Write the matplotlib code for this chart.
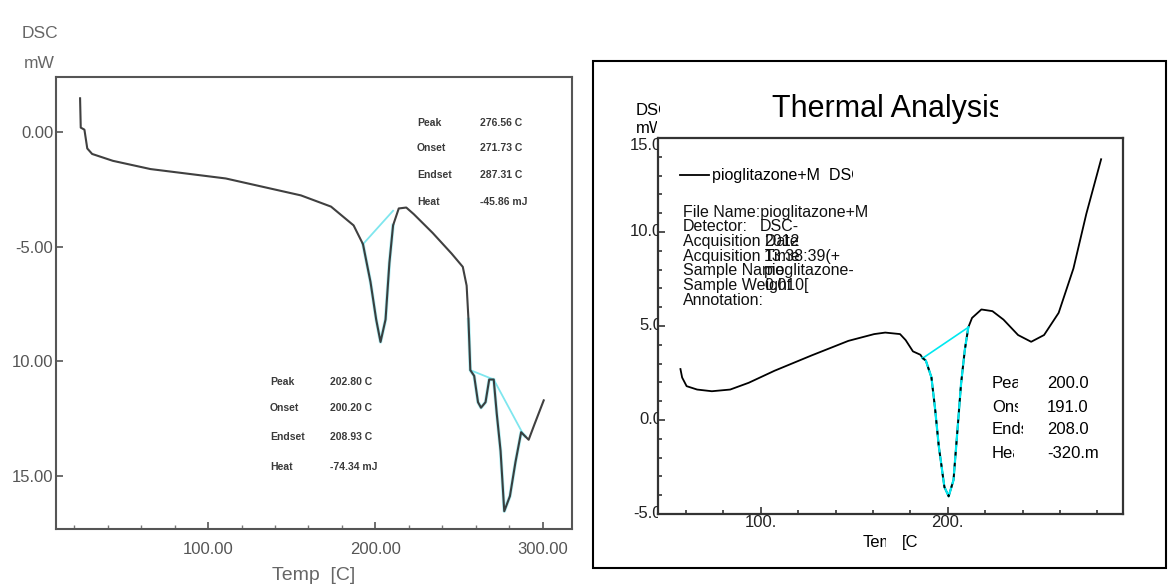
import numpy as np
import matplotlib
matplotlib.use('Agg')
import matplotlib.pyplot as plt
from matplotlib.patches import Rectangle
from matplotlib.ticker import MultipleLocator
from matplotlib.transforms import Bbox, TransformedBbox, blended_transform_factory, ScaledTranslation

W, H = 1168, 585
plt.rcParams['font.family'] = ['Liberation Sans', 'DejaVu Sans']

#############################################
# Left panel data (DSC trace)
#############################################
left_temp = [23.4, 23.8, 26.0, 27.7, 30.6, 43.0, 65.5, 110.5, 155.5, 173.5, 187.0, 192.6,
             197.1, 200.5, 203.1, 206.1, 208.4, 210.6, 214.0, 218.5, 223.0, 234.3, 245.6,
             252.3, 254.6, 255.7, 256.8, 259.1, 261.4, 263.2, 265.9, 268.1, 270.8, 272.6,
             274.9, 277.1, 280.5, 283.8, 287.2, 289.5, 291.7, 295.1, 300.7]
left_dsc = [1.48, 0.20, 0.11, -0.71, -0.95, -1.25, -1.61, -2.02, -2.76, -3.25, -4.07, -4.89,
            -6.54, -8.18, -9.16, -8.18, -5.71, -4.07, -3.33, -3.29, -3.58, -4.40, -5.30,
            -5.88, -6.70, -8.18, -10.39, -10.64, -11.79, -12.03, -11.79, -10.80, -10.80, -12.28,
            -13.92, -16.55, -15.89, -14.41, -13.10, -13.27, -13.43, -12.77, -11.71]
left_base_temp = [[192.6, 210.6], [256.8, 270.8], [270.8, 288.5]]
left_base_dsc = [[-4.89, -3.43], [-10.39, -10.80], [-10.80, -13.20]]
left_yticks = [0, -5, -10, -15]
left_yticklabels = ['0.00', '-5.00', '10.00', '15.00']
left_xticks = [100, 200, 300]
left_xticklabels = ['100.00', '200.00', '300.00']
left_peak_names = ['Peak', 'Onset', 'Endset', 'Heat']
left_peak2_values = ['276.56 C', '271.73 C', '287.31 C', '-45.86 mJ']
left_peak1_values = ['202.80 C', '200.20 C', '208.93 C', '-74.34 mJ']

#############################################
# Right panel data
#############################################
right_temp = [57.1, 58.0, 60.4, 66.0, 73.9, 83.7, 93.6, 107.4, 127.1, 146.9, 160.7, 166.6,
              174.5, 177.5, 181.4, 185.4, 186.5, 188.3, 191.3, 193.2, 195.2, 198.2, 200.5,
              203.1, 205.1, 207.1, 209.1, 211.0, 213.0, 218.0, 223.9, 229.8, 237.6, 244.6,
              251.5, 259.3, 267.2, 274.1, 282.0]
right_dsc = [2.71, 2.26, 1.80, 1.62, 1.53, 1.62, 1.98, 2.62, 3.43, 4.21, 4.57, 4.65,
             4.57, 4.25, 3.65, 3.47, 3.30, 3.16, 2.26, 0.62, -1.38, -3.56, -4.06,
             -3.19, -0.65, 1.89, 3.71, 4.93, 5.43, 5.88, 5.79, 5.34, 4.52, 4.16,
             4.52, 5.70, 8.06, 10.97, 13.87]
right_base_temp = [186.5, 211.0]
right_base_dsc = [3.28, 4.93]
right_yticks = [-5, 0, 5, 10, 15]
right_yticklabels = ['-5.0', '0.0', '5.0', '10.0', '15.0']
right_xticks = [100, 200]
right_xticklabels = ['100.', '200.']
right_info_names = ['File Name:pioglitazone+M', 'Detector:', 'Acquisition Date', 'Acquisition Time',
                    'Sample Name', 'Sample Weight', 'Annotation:']
right_info_values = ['', 'DSC-', '2012', '13:38:39(+', 'pioglitazone-', '0.010[', '']
right_peak_names = ['Peak', 'Onset', 'Endset', 'Heat']
right_peak_values = ['200.0', '191.0', '208.0', '-320.mJ']

fig = plt.figure(figsize=(W / 100, H / 100), dpi=100)


def clip_left_of(t, x_px):
    t.set_clip_box(TransformedBbox(Bbox.from_extents(0, 0, x_px / W, 1), fig.transFigure))
    t.set_clip_on(True)


def fig_text(x_px, y_px, s, clip_px=None, **kw):
    # positions given in picture pixels, measured from the top left
    t = fig.text(x_px / W, 1 - y_px / H, s, **kw)
    if clip_px is not None:
        clip_left_of(t, clip_px)
    return t


#############################################
# Left panel
#############################################
ax1 = fig.add_axes([56 / W, 1 - 529.3 / H, 516.3 / W, 452.3 / H])
ax1.plot(left_temp, left_dsc, color='#2b2b2b', lw=1.5, alpha=0.9, zorder=3)
lt = np.array(left_temp)
ld = np.array(left_dsc)
for lo, hi in [(192.6, 210.6), (255.7, 290.0)]:
    m = (lt >= lo) & (lt <= hi)
    ax1.plot(lt[m], ld[m], color='#7fe6ee', lw=2.5, alpha=0.6, zorder=2)
for bt, bd in zip(left_base_temp, left_base_dsc):
    ax1.plot(bt, bd, color='#7fe6ee', lw=1.3, zorder=2)
ax1.set_xlim(9.0, 317.8)
ax1.set_ylim(-17.34, 2.41)
ax1.set_xticks(left_xticks, left_xticklabels)
ax1.set_yticks(left_yticks, left_yticklabels)
ax1.xaxis.set_minor_locator(MultipleLocator(20))
ax1.tick_params(direction='in', length=5, width=1.2, color='#555555', labelcolor='#555555',
                labelsize=12)
ax1.tick_params(axis='x', pad=9)
ax1.tick_params(axis='y', pad=2)
ax1.tick_params(which='minor', direction='in', length=3, width=1, color='#777777')
for sp in ax1.spines.values():
    sp.set_color('#555555')
    sp.set_linewidth(1.5)

fig_text(40, 33, 'DSC', ha='center', va='center', fontsize=12.5, color='#666666')
fig_text(39, 63, 'mW', ha='center', va='center', fontsize=12.5, color='#666666')
fig_text(314, 575, 'Temp  [C]', ha='center', va='center', fontsize=14, color='#666666')

for i, (name, val) in enumerate(zip(left_peak_names, left_peak2_values)):
    y = [123, 148, 175, 202][i]
    fig_text(417, y, name, va='center', fontsize=7.5, fontweight='bold', color='#3a3a3a')
    fig_text(480, y, val, va='center', fontsize=7.5, fontweight='bold', color='#3a3a3a')
for i, (name, val) in enumerate(zip(left_peak_names, left_peak1_values)):
    y = [382, 408, 437, 467][i]
    fig_text(270, y, name, va='center', fontsize=7.5, fontweight='bold', color='#3a3a3a')
    fig_text(330, y, val, va='center', fontsize=7.5, fontweight='bold', color='#3a3a3a')

#############################################
# Right panel
#############################################
fig.add_artist(Rectangle((593 / W, 1 - 568 / H), (1166 - 593) / W, (568 - 61) / H,
                         transform=fig.transFigure, fill=False, ec='black', lw=1.5))

ax2 = fig.add_axes([658 / W, 1 - 514 / H, 465 / W, 376 / H])
curve, = ax2.plot(right_temp, right_dsc, color='black', lw=1.3, zorder=3,
                  label='pioglitazone+M  DSC')
rt = np.array(right_temp)
rd = np.array(right_dsc)
m = (rt >= right_base_temp[0]) & (rt <= right_base_temp[1])
ax2.plot(rt[m], rd[m], color='#00e8f0', lw=1.6, zorder=4)
ax2.plot(rt[m], rd[m], color='black', lw=1.3, ls=(0, (2, 4)), zorder=5)
ax2.plot(right_base_temp, right_base_dsc, color='#00e8f0', lw=1.2, zorder=4)
ax2.set_xlim(45.1, 293.7)
ax2.set_ylim(-5, 15)
ax2.set_xticks(right_xticks, right_xticklabels)
ax2.set_yticks(right_yticks, [''] * len(right_yticks))
ax2.xaxis.set_minor_locator(MultipleLocator(20))
ax2.yaxis.set_minor_locator(MultipleLocator(1))
ax2.tick_params(direction='in', length=5, width=1.2, color='#333333', labelcolor='#222222',
                labelsize=12, pad=1)
ax2.tick_params(which='minor', direction='in', length=3, width=1.2, color='#333333')
for sp in ax2.spines.values():
    sp.set_color('#333333')
    sp.set_linewidth(1.6)

# y tick labels: drawn behind the frame, so their last digit is cut by the axis
lab_tr = ax2.get_yaxis_transform() + ScaledTranslation(4 / 100, 0, fig.dpi_scale_trans)
clip_y = TransformedBbox(Bbox.from_extents(-1, 0, 0, 1),
                         blended_transform_factory(ax2.transAxes, fig.transFigure))
for v, s in zip(right_yticks, right_yticklabels):
    t = fig.text(0, v, s, transform=lab_tr, ha='right', va='top' if v == 15 else 'center',
                 fontsize=12, color='#222222')
    t.set_clip_box(clip_y)
    t.set_clip_on(True)

fig_text(772, 117, 'Thermal Analysis', clip_px=998, va='baseline', fontsize=22)
fig_text(636, 115, 'DSC', clip_px=660, va='baseline', fontsize=12)
fig_text(636, 133, 'mW', clip_px=657, va='baseline', fontsize=12)
fig_text(863, 543, 'Temp', clip_px=886, va='center', fontsize=12)
fig_text(902, 543, '[C]', clip_px=917, va='center', fontsize=12)

leg = ax2.legend(handles=[curve], loc='center left',
                 bbox_to_anchor=((680 - 658) / 465, 1 - (176 - 138) / 376),
                 frameon=False, borderpad=0, borderaxespad=0, handlelength=1.8,
                 handletextpad=0.2, fontsize=11.5)
clip_left_of(leg.get_texts()[0], 853)

for i, (name, val) in enumerate(zip(right_info_names, right_info_values)):
    y = 212 + 14.7 * i
    fig_text(683, y, name, va='center', fontsize=11.5, color='#111111')
    if val:
        fig_text(760 if i == 1 else 764, y, val, va='center', fontsize=11.5, color='#111111')

for i, (name, val) in enumerate(zip(right_peak_names, right_peak_values)):
    y = [383, 407, 429, 453][i]
    fig_text(992, y, name, clip_px=[1018, 1018, 1023, 1014][i], va='center', fontsize=12)
    fig_text(1047, y, val, clip_px=[1088, 1088, 1088, 1098][i], va='center', fontsize=12)

fig.savefig('out.png', dpi=100)
